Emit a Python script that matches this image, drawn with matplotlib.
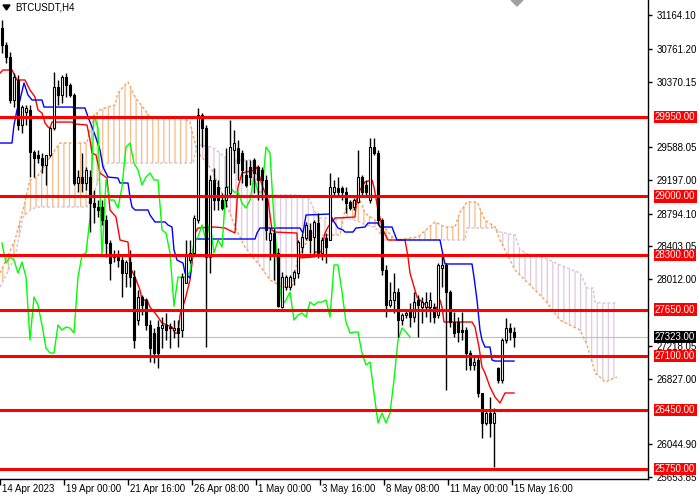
import numpy as np
import matplotlib
matplotlib.use("Agg")
import matplotlib.pyplot as plt
from matplotlib import transforms
from matplotlib.patches import Polygon

plt.rcParams['font.family'] = ['Liberation Sans', 'DejaVu Sans']
plt.rcParams['hatch.linewidth'] = 0.9

symbol = "BTCUSDT,H4"

opens = [31009, 30806, 30663, 30150, 30389, 29852, 30007, 30031, 29530, 29494,
         29458, 29375, 29494, 29816, 30305, 30210, 30424, 30329, 30210, 29160,
         29231, 29160, 29231, 28921, 28874, 28874, 28718, 28444, 28301, 28301,
         28241, 28086, 28217, 28038, 27525, 27800, 27764, 27466, 27370, 27442,
         27430, 27466, 27430, 27406, 27430, 27406, 27967, 28241, 28325, 28718,
         29971, 29816, 28277, 29196, 29112, 28957, 28957, 29040, 29554, 29577,
         29518, 29255, 29351, 29434, 29351, 29315, 29196, 28480, 28563, 28325,
         27680, 27919, 27919, 28026, 28086, 28396, 28504, 28599, 28516, 28683,
         28325, 28504, 28480, 29052, 29100, 29100, 29052, 28933, 28874, 28933,
         29231, 29136, 28957, 29589, 29518, 28718, 28122, 27704, 27764, 27859,
         27525, 27585, 27621, 27561, 27764, 27680, 27680, 27680, 27680, 27585,
         28146, 28182, 27859, 27502, 27502, 27406, 27406, 27132, 26989, 27048,
         26655, 26297, 26416, 26297, 26953, 26810, 27287, 27430, 27382]
highs = [31104, 30842, 30723, 30472, 30448, 30090, 30090, 30090, 29554, 29554,
         29518, 29494, 29828, 30484, 30389, 30448, 30472, 30353, 30233, 29315,
         29518, 29351, 29315, 29076, 28957, 28957, 28778, 28480, 28361, 28361,
         28301, 28241, 28361, 28122, 27883, 27824, 27788, 27525, 27430, 27525,
         27561, 27609, 27490, 27525, 27525, 28086, 28480, 28480, 28778, 30055,
         29995, 29852, 29255, 29339, 29196, 29040, 29577, 29911, 29792, 29673,
         29554, 29434, 29434, 29458, 29375, 29351, 29255, 28623, 28623, 28384,
         28098, 28062, 28062, 28122, 28480, 28563, 28695, 28683, 28718, 28802,
         28516, 28563, 29279, 29196, 29231, 29124, 29112, 28957, 28981, 29554,
         29255, 29196, 29697, 29697, 29554, 28742, 28182, 27979, 28086, 27907,
         27609, 27645, 27728, 27859, 27824, 27800, 27859, 27859, 27728, 28205,
         28325, 28205, 27883, 27621, 27561, 27621, 27442, 27168, 27084, 27084,
         26655, 26452, 26607, 26476, 26965, 27311, 27549, 27490, 27442]
lows = [30711, 30591, 30114, 30066, 29792, 29756, 29852, 29231, 29231, 29398,
        29279, 29136, 29470, 29792, 30090, 30114, 30186, 30186, 29136, 29052,
        29052, 29076, 28575, 28683, 28754, 28659, 28277, 28003, 28217, 28158,
        27800, 27919, 27919, 27191, 27466, 27585, 27406, 27024, 27012, 26953,
        27191, 27287, 27191, 27311, 27203, 27323, 27967, 28205, 28325, 28683,
        29589, 27203, 28086, 28838, 28838, 28838, 28874, 28993, 29279, 29196,
        29160, 29112, 29136, 29040, 28957, 28957, 28480, 28241, 28003, 27680,
        27669, 27883, 27883, 27943, 28026, 28325, 28480, 28325, 28277, 28265,
        28241, 28205, 28480, 28993, 28993, 28957, 28802, 28838, 28838, 28921,
        28993, 28993, 28921, 29494, 28659, 28062, 27561, 27680, 27609, 27323,
        27466, 27549, 27442, 27502, 27323, 27490, 27561, 27502, 27490, 27549,
        27919, 26690, 27442, 27323, 27263, 27287, 26929, 26929, 26929, 26607,
        26118, 26273, 26130, 25772, 26774, 26774, 27251, 27287, 27203]
closes = [30806, 30663, 30150, 30424, 29852, 30066, 30055, 29530, 29458, 29458,
          29375, 29494, 29816, 30305, 30210, 30424, 30329, 30210, 29160, 29231,
          29160, 29315, 28921, 28874, 28838, 28718, 28444, 28205, 28277, 28241,
          28086, 28217, 28038, 27287, 27800, 27704, 27466, 27191, 27132, 27132,
          27466, 27406, 27442, 27430, 27370, 28038, 28301, 28325, 28742, 29971,
          29816, 28277, 29196, 28957, 28957, 28862, 29112, 29589, 29637, 29398,
          29315, 29136, 29231, 29279, 29196, 29196, 28599, 28563, 28325, 27692,
          28038, 28038, 28038, 28098, 28456, 28516, 28659, 28480, 28695, 28325,
          28480, 28396, 29112, 29112, 29052, 29052, 28921, 28862, 28957, 29231,
          29052, 29052, 29589, 29518, 28718, 28122, 27704, 27764, 27859, 27525,
          27585, 27609, 27561, 27740, 27704, 27740, 27740, 27764, 27561, 28182,
          28182, 27859, 27502, 27370, 27382, 27382, 27132, 26989, 27024, 26655,
          26297, 26416, 26297, 26416, 26810, 27287, 27430, 27382, 27323]

# Tenkan-sen (red)
tenkan_x = [-0.5, 0.25, 2.5, 3.75, 5.75, 7, 8.25, 9, 10, 10.75, 11.5, 12, 12.5, 17.5, 18.25,
            21.25, 22, 22.5, 23.5, 24.5, 26.25, 27, 28.5, 29.5, 31.5, 32, 33.25, 34.5, 35,
            36.25, 37, 38.25, 39, 40, 42.5, 43.25, 44, 44.5, 45.75, 47, 47.75, 48.25, 49,
            53.25, 55.75, 58.25, 59, 60, 63.25, 63.75, 65, 66.5, 67.5, 68.25, 73.75, 74,
            77.75, 78.25, 79.75, 80.75, 81.5, 83.25, 88.25, 88.75, 89.5, 90.75, 92.5, 93,
            94, 95.25, 96.5, 100.75, 101.5, 102, 103.75, 104.5, 106.5, 108.25, 108.75,
            109.5, 110, 110.5, 117.5, 118.25, 119.25, 120, 120.75, 122, 123.25, 124.5,
            125.75, 128]
tenkan_y = [30472, 30508, 30508, 30389, 30389, 30269, 30186, 30031, 29995, 29876, 29828,
            29816, 29887, 29887, 29864, 29852, 29673, 29518, 29494, 29279, 29219, 28838,
            28754, 28480, 28456, 28158, 28038, 27883, 27764, 27764, 27680, 27609, 27561,
            27490, 27442, 27370, 27370, 27585, 27764, 28003, 28301, 28563, 28623, 28635,
            28623, 28563, 29112, 29279, 29315, 29351, 29136, 28957, 28599, 28575, 28563,
            28265, 28277, 28337, 28337, 28563, 28635, 28742, 28754, 28993, 29076, 29172,
            29196, 29112, 28838, 28599, 28480, 28480, 28277, 28086, 27800, 27764, 27680,
            27609, 27680, 27764, 27680, 27502, 27502, 27442, 27203, 26965, 26893, 26726,
            26607, 26535, 26655, 26655]

# Kijun-sen (blue)
kijun_x = [-0.5, 2.5, 3, 3.75, 4.5, 5.5, 6.5, 7.5, 10, 10.5, 17.5, 18.25, 20.75, 21.5,
           22.5, 23.25, 24.5, 25.25, 26.5, 29, 29.5, 31.5, 32, 32.5, 33.25, 36.5, 37,
           38.25, 40.75, 41.5, 42.5, 43, 43.75, 45.25, 45.75, 47, 47.5, 48.25, 48.75,
           63.25, 63.75, 64.5, 74.5, 75.25, 76, 82, 82.75, 84, 85.25, 85.75, 87.75, 88.5,
           90.75, 91.5, 94, 94.5, 97.5, 98.25, 98.75, 109.5, 110, 110.75, 117.5, 118,
           118.75, 119.5, 120, 120.75, 122, 122.5, 123.25, 128]
kijun_y = [29637, 29637, 29852, 30031, 30150, 30353, 30210, 30150, 30150, 30066, 30066,
           30055, 30055, 29947, 29828, 29732, 29554, 29351, 29231, 29219, 29160, 29160,
           28993, 28874, 28838, 28838, 28778, 28695, 28695, 28659, 28635, 28361, 28241,
           28205, 28086, 28026, 28277, 28480, 28492, 28492, 28563, 28623, 28623, 28563,
           28778, 28790, 28718, 28623, 28599, 28575, 28575, 28623, 28635, 28683, 28683,
           28635, 28635, 28539, 28480, 28480, 28361, 28194, 28194, 28038, 27764, 27406,
           27287, 27203, 27203, 27048, 27036, 27036]

# Kumo (Senkou span A = sandy brown, Senkou span B = thistle)
cloud_x = [-0.5, 3.25, 5.25, 7, 8.75, 10.75, 13.25, 14.5, 21.25, 22, 23.25, 24.5, 25.75,
           26.5, 28.25, 29, 30.75, 31.5, 33.25, 35.75, 37, 45.25, 47, 47.75, 48.75, 49.5,
           52.5, 55.75, 58.25, 60.75, 63.25, 64, 67, 70, 72.5, 73.25, 74, 76.5, 77.5, 79,
           84.5, 85.75, 88.25, 89.5, 90.75, 93.25, 95.75, 98.25, 104, 108.25, 110.75,
           113.25, 114.5, 115.75, 116.25, 118.75, 120.75, 123.25, 124.5, 128.25, 129.5,
           132, 135.75, 139.5, 144.5, 146.25, 147, 147.75, 148.25, 149.5, 150.75, 153.75]
span_a = [28086, 28480, 28838, 29196, 29231, 29375, 29554, 29637, 29637, 29792, 29971,
          30031, 30055, 30066, 30090, 30233, 30329, 30365, 30186, 30031, 29947, 29935,
          29887, 29732, 29554, 29494, 29315, 28957, 28635, 28396, 28241, 28205, 28003,
          27919, 27919, 28086, 28277, 28480, 28563, 28539, 28539, 28838, 28957, 28957,
          28802, 28718, 28623, 28480, 28516, 28695, 28635, 28635, 28814, 28897, 28933,
          28933, 28718, 28635, 28480, 28122, 28062, 27943, 27764, 27525, 27406, 27227,
          27108, 26989, 26893, 26845, 26786, 26845]
span_b = [27919, 28277, 28754, 28838, 28874, 28874, 28874, 28874, 28874, 28957, 29076,
          29255, 29375, 29398, 29398, 29398, 29398, 29398, 29398, 29398, 29398, 29398,
          29398, 29398, 29613, 29613, 29589, 29470, 29434, 29434, 29434, 29017, 29017,
          29017, 29017, 29017, 29017, 28993, 28897, 28742, 28742, 28742, 28718, 28695,
          28659, 28635, 28480, 28480, 28480, 28480, 28480, 28480, 28480, 28480, 28623,
          28623, 28623, 28623, 28575, 28539, 28361, 28301, 28265, 28182, 28086, 27907,
          27907, 27907, 27740, 27728, 27728, 27728]

chikou_shift = 26
levels = [29950, 29000, 28300, 27650, 27100, 26450, 25750]
last_price = 27323
price_ticks = [31164.10, 30761.20, 30370.15, 29588.05, 29197.00, 28794.10,
               28403.05, 28012.00, 27218.05, 26827.00, 26044.90, 25653.85]
date_labels = ["14 Apr 2023", "19 Apr 00:00", "21 Apr 16:00", "26 Apr 08:00", "1 May 00:00",
               "3 May 16:00", "8 May 08:00", "11 May 00:00", "15 May 16:00"]
date_pos = [-0.5, 15.5, 31.5, 47.5, 63.5, 79.5, 95.5, 111.5, 127.5]

fig = plt.figure(figsize=(7, 5), dpi=100)
ax = fig.add_axes([0, 21 / 500, 648 / 700, 479 / 500])
ax.set_xlim(-0.5, 161.5)
ax.set_ylim(25629, 31343)

# cloud
A = np.array(span_a, float)
B = np.array(span_b, float)
ax.fill_between(cloud_x, A, B, where=A >= B, interpolate=True, facecolor='none',
                edgecolor=(0.957, 0.643, 0.376, 0.75), hatch='|||', linewidth=0, zorder=1)
ax.fill_between(cloud_x, A, B, where=A < B, interpolate=True, facecolor='none',
                edgecolor=(0.847, 0.749, 0.847, 0.85), hatch='|||', linewidth=0, zorder=1)
ax.plot(cloud_x, A, color='#F4A460', lw=1, ls=(0, (2, 1.5)), zorder=1.5)
ax.plot(cloud_x, B, color='#D8BFD8', lw=1, ls=(0, (2, 1.5)), zorder=1.5)

ax.axhline(last_price, color='#C0C0C0', lw=0.8, zorder=1.2)

# indicator lines
ax.plot(tenkan_x, tenkan_y, color='red', lw=1, zorder=2)
ax.plot(kijun_x, kijun_y, color='blue', lw=1, zorder=2)
ch = np.array(closes[chikou_shift:], float)
ax.plot(np.arange(len(ch)), ch, color='#00FF00', lw=1, zorder=2)

# candles
O = np.array(opens, float); H = np.array(highs, float)
L = np.array(lows, float); C = np.array(closes, float)
idx = np.arange(len(O))
ax.vlines(idx, L, H, color='black', lw=1, zorder=3)
bull = C >= O
bot = np.minimum(O, C)
hgt = np.maximum(np.abs(C - O), 14)
ax.bar(idx[bull], hgt[bull], bottom=bot[bull], width=0.55, facecolor='white',
       edgecolor='black', linewidth=0.8, zorder=3.2)
ax.bar(idx[~bull], hgt[~bull], bottom=bot[~bull], width=0.55, facecolor='black',
       edgecolor='black', linewidth=0.8, zorder=3.2)

# levels
for lv in levels:
    ax.axhline(lv, color='red', lw=2.2, zorder=5)

# axes styling
for s in ['top', 'left']:
    ax.spines[s].set_visible(False)
for s in ['right', 'bottom']:
    ax.spines[s].set_color('black')
    ax.spines[s].set_linewidth(1)
ax.yaxis.tick_right()
ax.set_yticks(price_ticks, [f"{t:.2f}" for t in price_ticks])
ax.tick_params(axis='y', direction='out', length=3, width=1, pad=3, labelsize=7, colors='black')
ax.set_xticks(date_pos, [''] * len(date_pos))
ax.tick_params(axis='x', direction='out', length=4, width=1)

off_y = transforms.ScaledTranslation(7 / 100, 0, fig.dpi_scale_trans)
ytrans = transforms.blended_transform_factory(ax.transAxes, ax.transData) + off_y
box = dict(boxstyle='square,pad=0.12', fc='red', ec='none')
for lv in levels:
    ax.text(1.0, lv, f"{lv:.2f}", transform=ytrans, ha='left', va='center', color='white',
            fontsize=7, bbox=box, clip_on=False, zorder=10)
ax.text(1.0, last_price, f"{last_price:.2f}", transform=ytrans, ha='left', va='center',
        color='white', fontsize=7, bbox=dict(boxstyle='square,pad=0.12', fc='black', ec='none'),
        clip_on=False, zorder=10)

off_x = transforms.ScaledTranslation(2 / 100, -5 / 100, fig.dpi_scale_trans)
xtrans = transforms.blended_transform_factory(ax.transData, ax.transAxes) + off_x
for p, lab in zip(date_pos, date_labels):
    ax.text(p, 0, lab, transform=xtrans, ha='left', va='top', fontsize=7, color='black',
            clip_on=False)

# header
fig.text(15 / 700, 1 - 8 / 500, symbol, fontsize=7, ha='left', va='center', color='black')
fig.add_artist(Polygon([(3 / 700, 1 - 5 / 500), (10 / 700, 1 - 5 / 500), (6.5 / 700, 1 - 10 / 500)],
                       closed=True, transform=fig.transFigure, color='black'))
fig.add_artist(Polygon([(511 / 700, 1.0), (523 / 700, 1.0), (517 / 700, 1 - 6 / 500)],
                       closed=True, transform=fig.transFigure, color='#A0A0A0'))

fig.savefig('out.png', dpi=100)
